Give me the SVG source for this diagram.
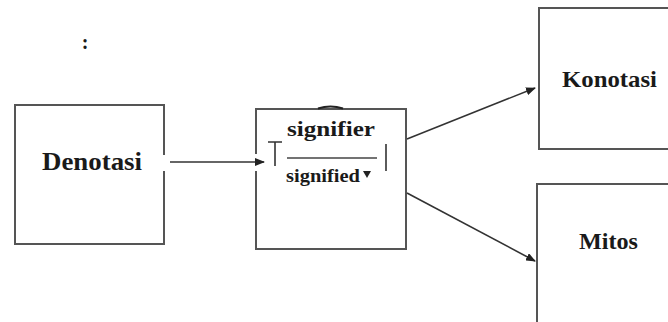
<svg xmlns="http://www.w3.org/2000/svg" width="668" height="322" viewBox="0 0 668 322">
<style>
.box{fill:none;stroke:#555;stroke-width:2}
.ln{fill:none;stroke:#333;stroke-width:1.6}
.lbl{font-family:"Liberation Serif","Times New Roman",serif;font-weight:bold;fill:#1a1a1a}
</style>
<defs>
<marker id="ah" markerWidth="10" markerHeight="8" refX="9" refY="4" orient="auto" markerUnits="userSpaceOnUse">
<path d="M0,0 L10,4 L0,8 Z" fill="#222"/>
</marker>
</defs>
<rect width="668" height="322" fill="#fff"/>
<text x="85" y="49" class="lbl" font-size="20" text-anchor="middle">:</text>
<g id="denotasi">
<path class="box" d="M164,155 V105 H15 V244 H164 V171"/>
<text x="42" y="170" class="lbl" font-size="25" textLength="100" lengthAdjust="spacingAndGlyphs">Denotasi</text>
</g>
<g id="sign">
<path class="box" d="M256,154 V109 H406 V249 H256 V171"/>
<path d="M318,108.5 Q330.5,104.5 343,108.5" fill="none" stroke="#222" stroke-width="2"/>
<path class="ln" d="M268,142 H282 M275,142 V166"/>
<text x="287" y="136" class="lbl" font-size="21" textLength="88" lengthAdjust="spacingAndGlyphs">signifier</text>
<line x1="287" y1="158" x2="377" y2="158" stroke="#444" stroke-width="1.5"/>
<text x="286" y="182" class="lbl" font-size="18" textLength="74" lengthAdjust="spacingAndGlyphs">signified</text>
<path d="M363,171 L371,171 L367,178 Z" fill="#222"/>
<line class="ln" x1="386" y1="144" x2="386" y2="171"/>
</g>
<g id="konotasi">
<path class="box" d="M670,8 H539 V149 H670"/>
<text x="562" y="87" class="lbl" font-size="24" textLength="95" lengthAdjust="spacingAndGlyphs">Konotasi</text>
</g>
<g id="mitos">
<path class="box" d="M670,184 H537 V324"/>
<text x="579" y="249" class="lbl" font-size="24" textLength="59" lengthAdjust="spacingAndGlyphs">Mitos</text>
</g>
<g id="connectors">
<line class="ln" x1="170" y1="162" x2="264" y2="162" marker-end="url(#ah)"/>
<line class="ln" x1="407" y1="139" x2="535" y2="88" marker-end="url(#ah)"/>
<line class="ln" x1="407" y1="193" x2="535" y2="261" marker-end="url(#ah)"/>
</g>
</svg>
